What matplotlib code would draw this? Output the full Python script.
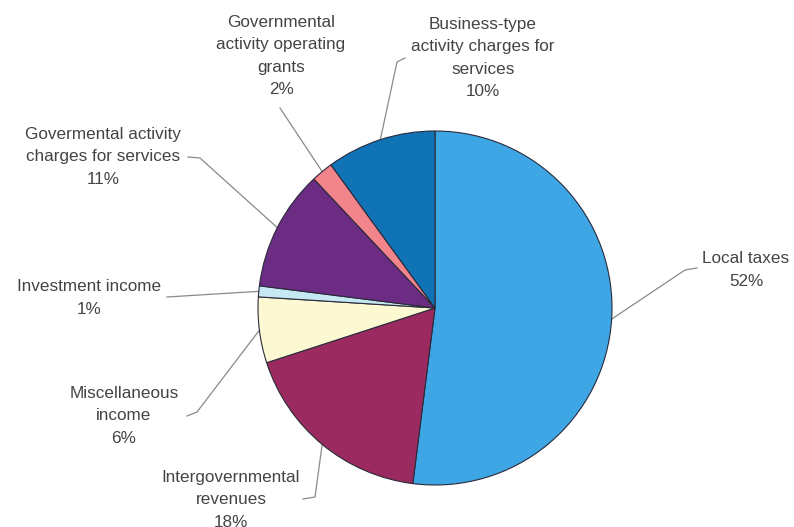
import matplotlib.pyplot as plt
import numpy as np

plt.rcParams['font.family'] = ['Liberation Sans', 'DejaVu Sans']

# data, clockwise from 12 o'clock
labels = ['Local taxes', 'Intergovernmental\nrevenues', 'Miscellaneous\nincome',
          'Investment income', 'Govermental activity\ncharges for services',
          'Governmental\nactivity operating\ngrants', 'Business-type\nactivity charges for\nservices']
shares = [52, 18, 6, 1, 11, 2, 10]
colors = ['#3ea6e4', '#9a2a60', '#fcf9d2', '#c6e8f2', '#6c2c84', '#f2848c', '#0f73b6']

W, H = 794, 527


def px(x, y):
    # image pixel coords -> data coords
    return x, H - y


# label text centre and leader-line elbow points (pixel coords)
text_pos = [(746, 270), (231, 500), (124, 416), (89, 298), (103, 157), (281, 56), (483, 58)]
elbows = [
    [(685, 270), (697, 268)],
    [(315, 497), (303, 499)],
    [(197, 412), (187, 416)],
    [(167, 297)],
    [(200, 158), (188, 157)],
    [(280, 108)],
    [(397, 62), (405, 58)],
]

fig = plt.figure(figsize=(W / 100, H / 100), dpi=100)
ax = fig.add_axes([0, 0, 1, 1])

cx, cy = px(435, 308)
R = 177
wedges, _ = ax.pie(shares, colors=colors, startangle=90, counterclock=False,
                   center=(cx, cy), radius=R, frame=False,
                   wedgeprops=dict(edgecolor='#2a2a3a', linewidth=0.8))

for w, lab, s, tp, el in zip(wedges, labels, shares, text_pos, elbows):
    mid = np.deg2rad((w.theta1 + w.theta2) / 2)
    ex, ey = cx + R * np.cos(mid), cy + R * np.sin(mid)
    pts = [(ex, ey)] + [px(*p) for p in el]
    xs, ys = zip(*pts)
    ax.plot(xs, ys, color='#8a8a8a', lw=0.9, zorder=0.5)
    tx, ty = px(*tp)
    ax.text(tx, ty, f'{lab}\n{s}%', ha='center', va='center', fontsize=12.3,
            color='#444444', linespacing=1.6)

ax.set_xlim(0, W)
ax.set_ylim(0, H)
ax.set_aspect('auto')
ax.axis('off')

fig.savefig('out.png', dpi=100)
